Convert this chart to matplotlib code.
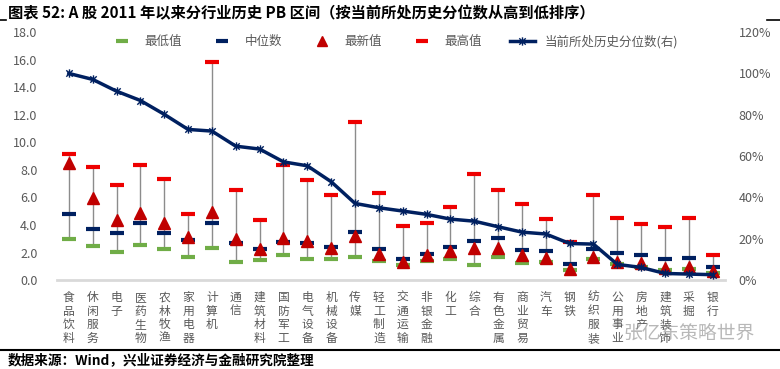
import numpy as np
import matplotlib.pyplot as plt
from matplotlib.path import Path
from matplotlib.lines import Line2D

plt.rcParams['font.family'] = ['Noto Sans CJK SC', 'DejaVu Sans']

# 行业（按当前所处历史分位数从高到低）
industries = ['食品饮料', '休闲服务', '电子', '医药生物', '农林牧渔', '家用电器', '计算机',
              '通信', '建筑材料', '国防军工', '电气设备', '机械设备', '传媒', '轻工制造',
              '交通运输', '非银金融', '化工', '综合', '有色金属', '商业贸易', '汽车', '钢铁',
              '纺织服装', '公用事业', '房地产', '建筑装饰', '采掘', '银行']

pb_min = [2.95, 2.45, 2.01, 2.52, 2.27, 1.69, 2.30, 1.28, 1.45, 1.79, 1.50, 1.52, 1.65, 1.38,
          1.07, 1.40, 1.50, 1.07, 1.65, 1.21, 1.28, 0.70, 1.50, 1.14, 0.97, 0.73, 0.78, 0.49]
pb_median = [4.77, 3.68, 3.39, 4.11, 3.44, 2.90, 4.11, 2.66, 2.25, 2.78, 2.71, 2.37, 3.46, 2.27,
             1.50, 1.89, 2.37, 2.81, 3.02, 2.18, 2.08, 1.14, 2.27, 1.93, 1.84, 1.52, 1.57, 0.97]
pb_latest = [8.47, 5.97, 4.35, 4.89, 4.16, 3.15, 4.93, 2.95, 2.27, 3.02, 2.83, 2.30, 3.19, 1.89,
             1.31, 1.79, 2.10, 2.30, 2.30, 1.79, 1.60, 0.78, 1.69, 1.31, 1.21, 0.85, 0.92, 0.67]
pb_max = [9.12, 8.18, 6.92, 8.32, 7.33, 4.81, 15.8, 6.55, 4.33, 8.35, 7.23, 6.17, 11.44, 6.34,
          3.90, 4.14, 5.27, 7.72, 6.51, 5.49, 4.43, 2.73, 6.17, 4.47, 4.04, 3.85, 4.47, 1.79]
percentile = [100.0, 97.1, 91.4, 86.9, 80.2, 72.9, 72.1, 64.8, 63.4, 57.2, 55.3, 47.6, 37.1, 35.0,
              33.4, 31.8, 29.5, 28.5, 25.8, 23.2, 22.3, 17.7, 17.4, 7.6, 6.1, 3.2, 2.9, 2.6]

c_green = '#70ad47'
c_navy = '#002060'
c_red = '#c00000'
c_max = '#ee0000'
c_grey = '#595959'

# 星形标记（x 加竖线）
star = Path([(-1, -1), (1, 1), (-1, 1), (1, -1), (0, -1.3), (0, 1.3)],
            [Path.MOVETO, Path.LINETO, Path.MOVETO, Path.LINETO, Path.MOVETO, Path.LINETO])

fig = plt.figure(figsize=(7.8, 3.69), dpi=100)
ax = fig.add_axes([0.073, 0.241, 0.856, 0.672])
x = np.arange(len(industries))

ax.vlines(x, pb_min, pb_max, color='#8c8c8c', lw=1, zorder=1)
ax.plot(x, pb_min, ls='none', marker='_', ms=10, mew=3, color=c_green, zorder=2)
ax.plot(x, pb_median, ls='none', marker='_', ms=10, mew=3, color=c_navy, zorder=2)
ax.plot(x, pb_max, ls='none', marker='_', ms=10, mew=3, color=c_max, zorder=2)
ax.plot(x, pb_latest, ls='none', marker='^', ms=8, color=c_red, zorder=3)

ax.set_xlim(-0.5, len(industries) - 0.5)
ax.set_ylim(0, 18)
ax.set_yticks(np.arange(0, 18.1, 2))
ax.set_yticklabels([f'{v:.1f}' for v in np.arange(0, 18.1, 2)])
ax.set_xticks(x)
ax.set_xticklabels(['\n'.join(n) for n in industries], linespacing=1.05)
ax.tick_params(axis='x', length=0, pad=8, labelsize=8.5, labelcolor=c_grey)
ax.tick_params(axis='y', length=0, pad=14, labelsize=9, labelcolor=c_grey)
for s in ['top', 'left', 'right']:
    ax.spines[s].set_visible(False)
ax.spines['bottom'].set_color('#d9d9d9')
ax.spines['bottom'].set_linewidth(2)

ax2 = ax.twinx()
ax2.plot(x, percentile, color=c_navy, lw=2.5, marker=star, ms=6, mew=1,
         mec=c_navy, zorder=5)
ax2.set_ylim(0, 120)
ax2.set_yticks(np.arange(0, 121, 20))
ax2.set_yticklabels([f'{v}%' for v in range(0, 121, 20)])
ax2.tick_params(axis='y', length=0, pad=10, labelsize=9, labelcolor=c_grey)
for s in ['top', 'left', 'right', 'bottom']:
    ax2.spines[s].set_visible(False)

handles = [
    Line2D([], [], ls='none', marker='_', ms=8, mew=3, color=c_green),
    Line2D([], [], ls='none', marker='_', ms=8, mew=3, color=c_navy),
    Line2D([], [], ls='none', marker='^', ms=7, color=c_red),
    Line2D([], [], ls='none', marker='_', ms=8, mew=3, color=c_max),
    Line2D([], [], color=c_navy, lw=2.5, marker=star, ms=6, mew=1, mec=c_navy),
]
labels = ['最低值', '中位数', '最新值', '最高值', '当前所处历史分位数(右)']
leg = ax2.legend(handles, labels, loc='upper center', bbox_to_anchor=(0.505, 1.035), ncol=5,
                 frameon=False, fontsize=9, handlelength=2.0, columnspacing=2.2)
for t in leg.get_texts():
    t.set_color(c_grey)

fig.text(0.01, 0.965, '图表 52: A 股 2011 年以来分行业历史 PB 区间（按当前所处历史分位数从高到低排序）',
         fontsize=11, fontweight='bold', va='center')
fig.add_artist(Line2D([0, 0.008], [0.945, 0.945], color='black', lw=1.2))
fig.add_artist(Line2D([0.983, 1.0], [0.945, 0.945], color='black', lw=1.2))
fig.add_artist(Line2D([0, 1.0], [0.052, 0.052], color='black', lw=1.5))
fig.text(0.01, 0.025, '数据来源：Wind，兴业证券经济与金融研究院整理', fontsize=9.8,
         fontweight='bold', va='center')
fig.text(0.968, 0.098, '张亿东策略世界', fontsize=13.5, color='#9a9a9a', alpha=0.7,
         ha='right', va='center')

fig.savefig('out.png', dpi=100)
